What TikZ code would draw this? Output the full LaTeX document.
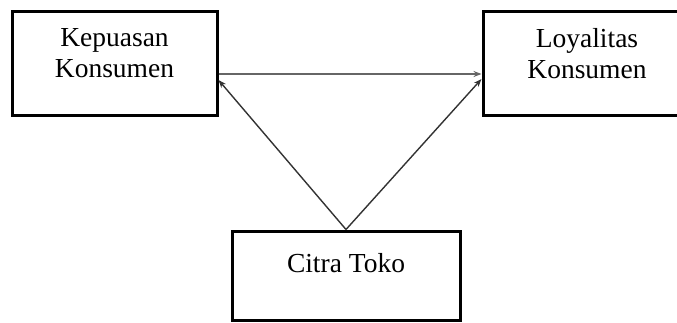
\documentclass[tikz,border=0pt]{standalone}
\usepackage{fontspec}
\setmainfont{Liberation Serif}
\usetikzlibrary{arrows.meta}
\begin{document}
\begin{tikzpicture}[x=1pt,y=-1pt,
  box/.style={draw=black, line width=3pt, rectangle, inner sep=0pt},
  txt/.style={align=center, font=\fontsize{27.5}{31}\selectfont, inner sep=0pt},
  arr/.style={draw=black!80, line width=1.4pt, -{Stealth[length=8pt,width=6pt]}}]
\useasboundingbox (0,0) rectangle (677,323);
\node[box, minimum width=205pt, minimum height=104pt] (kep) at (114.5,64) {};
\node[box, minimum width=207pt, minimum height=104pt] (loy) at (586.5,64) {};
\node[box, minimum width=228pt, minimum height=89pt] (cit) at (346,275.5) {};
\node[txt, anchor=north] (kept) at ([yshift=-18pt]kep.north) {Kepuasan\\Konsumen};
\node[txt, anchor=north] (loyt) at ([yshift=-18pt]kep.north -| 587,0) {Loyalitas\\Konsumen};
\node[txt, anchor=north] (citt) at ([yshift=-24pt]cit.north) {Citra Toko};
\draw[arr, draw=black!60] ([yshift=-10pt]kep.east) -- ([yshift=-10pt]loy.west);
\draw[arr] (cit.north) -- ([yshift=-16pt]kep.east);
\draw[arr] (cit.north) -- ([yshift=-15pt]loy.west);
\end{tikzpicture}
\end{document}
